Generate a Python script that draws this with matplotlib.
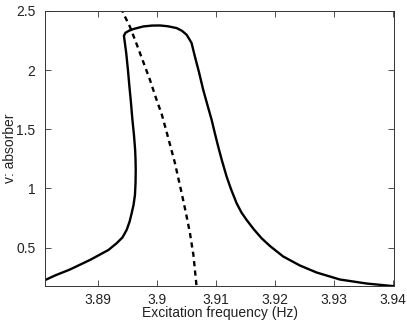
import numpy as np
import matplotlib
matplotlib.use("Agg")
import matplotlib.pyplot as plt

plt.rcParams['font.family'] = ['Liberation Sans', 'DejaVu Sans']

# frequency response (solid), traced along the path through the fold
freq = [3.88101, 3.88266, 3.88520, 3.88859, 3.89172, 3.89311, 3.89410, 3.89481,
        3.89532, 3.89566, 3.89598, 3.89622, 3.89632, 3.89635, 3.89632, 3.89625,
        3.89605, 3.89579, 3.89550, 3.89528, 3.89503, 3.89474, 3.89444, 3.89435,
        3.89461, 3.89520, 3.89593, 3.89762, 3.89910, 3.90045, 3.90181, 3.90328,
        3.90418, 3.90498, 3.90545, 3.90582, 3.90638, 3.90706, 3.90779, 3.90850,
        3.90922, 3.90977, 3.91033, 3.91096, 3.91176, 3.91249, 3.91345, 3.91427,
        3.91515, 3.91639, 3.91769, 3.91910, 3.92135, 3.92418, 3.92701, 3.93096,
        3.93549, 3.93977, 3.94030]
amp = [0.2265, 0.2646, 0.3153, 0.3957, 0.4803, 0.5370, 0.5860, 0.6495,
       0.7214, 0.7907, 0.8609, 0.9455, 1.0470, 1.1570, 1.2416, 1.3262,
       1.4531, 1.5800, 1.7492, 1.8616, 2.0025, 2.1442, 2.2567, 2.2904,
       2.3158, 2.3327, 2.3471, 2.3691, 2.3767, 2.3776, 2.3708, 2.3556,
       2.3328, 2.2989, 2.2609, 2.2287, 2.1154, 1.9860, 1.8338, 1.7067,
       1.5800, 1.4658, 1.3541, 1.2373, 1.1003, 0.9963, 0.8753, 0.7975,
       0.7340, 0.6537, 0.5793, 0.5141, 0.4253, 0.3492, 0.2900, 0.2307,
       0.1969, 0.1758, 0.1735]

# backbone curve (dashed)
bb_freq = [3.89393, 3.89423, 3.89537, 3.89655, 3.89762, 3.89876, 3.89977, 3.90079,
           3.90181, 3.90299, 3.90413, 3.90486, 3.90554, 3.90613, 3.90667]
bb_amp = [2.5273, 2.4825, 2.3666, 2.2143, 2.0705, 1.9183, 1.7660, 1.6222,
          1.4361, 1.2162, 0.9624, 0.7933, 0.6241, 0.4380, 0.1699]

xticks = [3.89, 3.9, 3.91, 3.92, 3.93, 3.94]
xticklabels = ['3.89', '3.9', '3.91', '3.92', '3.93', '3.94']
yticks = [0.5, 1, 1.5, 2, 2.5]
yticklabels = ['0.5', '1', '1.5', '2', '2.5']

fig = plt.figure(figsize=(4.07, 3.23), dpi=100)
ax = fig.add_axes([0.111, 0.1146, 0.858, 0.8514])

ax.plot(freq, amp, color='black', lw=1.7, solid_joinstyle='round')
ax.plot(bb_freq, bb_amp, color='black', lw=1.7, dashes=(2.2, 1.8))

ax.set_xlim(3.881, 3.9402)
ax.set_ylim(0.176, 2.5)
ax.set_xticks(xticks)
ax.set_xticklabels(xticklabels)
ax.set_yticks(yticks)
ax.set_yticklabels(yticklabels)

ax.tick_params(direction='in', length=4, width=0.6, colors='#333333',
               labelsize=10, top=True, right=True, pad=5)
ax.tick_params(axis='x', labelcolor='#222222')
ax.tick_params(axis='y', labelcolor='#222222', pad=7)
for s in ax.spines.values():
    s.set_color('#333333')
    s.set_linewidth(0.7)

ax.set_xlabel('Excitation frequency (Hz)', fontsize=10, color='#222222')
ax.set_ylabel('v: absorber', fontsize=10, color='#222222')
ax.yaxis.set_label_coords(-0.081, 0.5)
ax.xaxis.set_label_coords(0.5, -0.072)

fig.savefig('out.png', dpi=100)
